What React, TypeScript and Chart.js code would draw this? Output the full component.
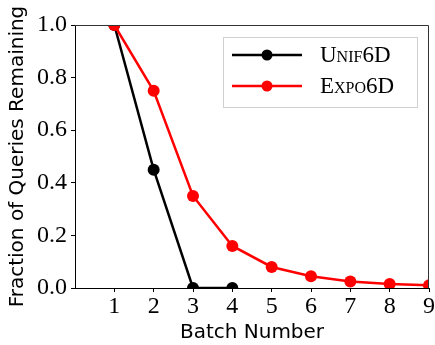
import React, { useEffect, useRef } from "react";
import { Chart, registerables } from "chart.js";

Chart.register(...registerables);

const batches = [1, 2, 3, 4, 5, 6, 7, 8, 9];
const unifValues = [1.0, 0.45, 0.0, 0.0];
const expoValues = [1.0, 0.75, 0.35, 0.16, 0.08, 0.045, 0.025, 0.015, 0.01];
const seriesNames = ["Unif6D", "Expo6D"];
const seriesColors = ["#000000", "#ff0000"];
const yTicks = [0, 0.2, 0.4, 0.6, 0.8, 1.0];

const TICK_FONT = "'Liberation Serif', 'DejaVu Serif', serif";
const TITLE_FONT = "'DejaVu Sans', sans-serif";

const framePlugin = {
  id: "frameAndLegend",
  afterDatasetsDraw(chart: any) {
    const { ctx, chartArea } = chart;
    const { left, right, top, bottom } = chartArea;
    ctx.save();
    ctx.strokeStyle = "#333";
    ctx.lineWidth = 1;
    ctx.beginPath();
    ctx.moveTo(left, top + 0.5);
    ctx.lineTo(right - 0.5, top + 0.5);
    ctx.lineTo(right - 0.5, bottom);
    ctx.stroke();

    // legend
    const bx = left + 148;
    const by = top + 12;
    const bw = 194;
    const bh = 70;
    ctx.fillStyle = "rgba(255,255,255,0.85)";
    ctx.fillRect(bx, by, bw, bh);
    ctx.strokeStyle = "#d0d0d0";
    ctx.lineWidth = 1;
    ctx.strokeRect(bx + 0.5, by + 0.5, bw, bh);
    const rows = [by + 18, by + 49];
    seriesNames.forEach((name, i) => {
      const y = rows[i];
      ctx.strokeStyle = seriesColors[i];
      ctx.lineWidth = 2.5;
      ctx.beginPath();
      ctx.moveTo(bx + 9, y);
      ctx.lineTo(bx + 79, y);
      ctx.stroke();
      ctx.fillStyle = seriesColors[i];
      ctx.beginPath();
      ctx.arc(bx + 44, y, 5.5, 0, Math.PI * 2);
      ctx.fill();
      ctx.fillStyle = "#000";
      ctx.font = "small-caps 23px " + TICK_FONT;
      try {
        (ctx as any).fontVariantCaps = "small-caps";
      } catch (e) {}
      ctx.textBaseline = "middle";
      ctx.textAlign = "left";
      ctx.fillText(name, bx + 97, y + 1);
      try {
        (ctx as any).fontVariantCaps = "normal";
      } catch (e) {}
    });
    ctx.restore();
  },
};

export default function App() {
  const ref = useRef<HTMLCanvasElement>(null);
  useEffect(() => {
    document.body.style.margin = "0";
    const canvas = ref.current;
    if (!canvas) return;
    const mk = (vals: number[]) => vals.map((v, i) => ({ x: batches[i], y: v }));
    const chart = new Chart(canvas, {
      type: "line",
      data: {
        datasets: [
          {
            label: seriesNames[0],
            data: mk(unifValues),
            borderColor: seriesColors[0],
            backgroundColor: seriesColors[0],
            borderWidth: 2.5,
            pointRadius: 6,
            pointHoverRadius: 6,
            pointBorderWidth: 0,
            clip: 0,
            order: 2,
          },
          {
            label: seriesNames[1],
            data: mk(expoValues),
            borderColor: seriesColors[1],
            backgroundColor: seriesColors[1],
            borderWidth: 2.5,
            pointRadius: 6,
            pointHoverRadius: 6,
            pointBorderWidth: 0,
            clip: 0,
            order: 1,
          },
        ],
      },
      options: {
        animation: false,
        responsive: false,
        events: [],
        layout: { padding: { top: 25, right: 6, left: 0, bottom: 0 } },
        plugins: {
          legend: { display: false },
          tooltip: { enabled: false },
        },
        scales: {
          x: {
            type: "linear",
            min: 0,
            max: 9,
            afterFit: (s: any) => {
              s.height = 57;
            },
            afterBuildTicks: (s: any) => {
              s.ticks = batches.map((b) => ({ value: b }));
            },
            ticks: {
              color: "#000",
              font: { family: TICK_FONT, size: 24 },
              padding: 0,
              maxRotation: 0,
              autoSkip: false,
              callback: (v: any) => String(v),
            },
            grid: {
              display: true,
              drawOnChartArea: false,
              drawTicks: true,
              tickLength: 4,
              color: "#000",
            },
            border: { display: true, color: "#000", width: 1 },
            title: {
              display: true,
              text: "Batch Number",
              color: "#000",
              font: { family: TITLE_FONT, size: 20 },
              padding: { top: 0, bottom: 0 },
            },
          },
          y: {
            type: "linear",
            min: 0,
            max: 1,
            afterFit: (s: any) => {
              s.width = 75;
            },
            afterBuildTicks: (s: any) => {
              s.ticks = yTicks.map((t) => ({ value: t }));
            },
            ticks: {
              color: "#000",
              font: { family: TICK_FONT, size: 24 },
              padding: 4,
              callback: (v: any) => Number(v).toFixed(1),
            },
            grid: {
              display: true,
              drawOnChartArea: false,
              drawTicks: true,
              tickLength: 4,
              color: "#000",
            },
            border: { display: true, color: "#000", width: 1 },
            title: {
              display: true,
              text: "Fraction of Queries Remaining",
              color: "#000",
              font: { family: TITLE_FONT, size: 20 },
              padding: { top: 6, bottom: 0 },
            },
          },
        },
      },
      plugins: [framePlugin],
    } as any);
    return () => chart.destroy();
  }, []);
  return (
    <div style={{ width: 435, height: 345, background: "#fff" }}>
      <canvas ref={ref} width={435} height={345} />
    </div>
  );
}
